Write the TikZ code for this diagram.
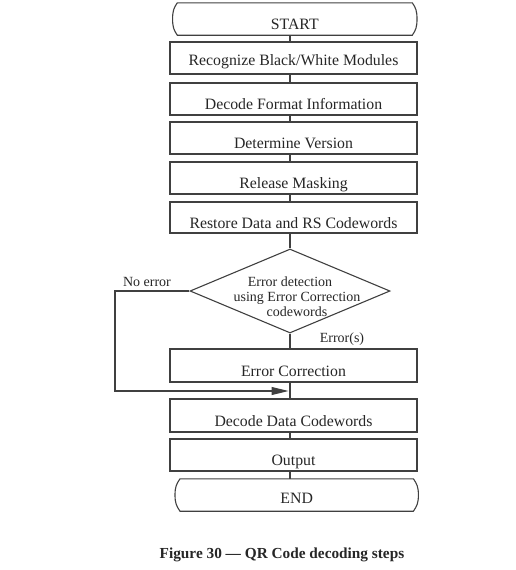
\documentclass[tikz,border=0pt]{standalone}
\usepackage{fontspec}
\setmainfont{Liberation Serif}
\usetikzlibrary{shapes.geometric,arrows.meta}
\definecolor{ln}{gray}{0.25}
\definecolor{tx}{gray}{0.15}
\tikzset{
  line/.style={draw=ln, line width=1.1pt},
  stepbox/.style={line, rectangle, minimum width=247pt, minimum height=32pt, inner sep=0pt,
    text height=21pt, text depth=0pt, text=tx, font=\fontsize{15.8}{18}\selectfont},
  termbox/.style={rectangle, minimum height=32pt, inner sep=0pt,
    text height=20.5pt, text depth=0pt, text=tx, font=\fontsize{15.8}{18}\selectfont},
  lbl/.style={text=tx, inner sep=0pt, font=\fontsize{14}{15}\selectfont},
}
\newcommand{\termoutline}[2]{%
  \draw[line] ([xshift=#2]#1.north west) -- ([xshift=-#2]#1.north east)
    .. controls +(3.5,5) and +(0,-8) .. (#1.east)
    .. controls +(0,8) and +(3.5,-5) .. ([xshift=-#2]#1.south east)
    -- ([xshift=#2]#1.south west)
    .. controls +(-3.5,-5) and +(0,8) .. (#1.west)
    .. controls +(0,-8) and +(-3.5,5) .. ([xshift=#2]#1.north west) -- cycle;}
\begin{document}
\begin{tikzpicture}[x=1pt,y=-1pt]
\useasboundingbox (0,0) rectangle (516,570);
\coordinate (col) at (290,0);
\coordinate (loop) at (115,391);

\node[termbox, minimum width=244pt] (start) at (294.8,19) {START};
\termoutline{start}{4.7pt}

\node[stepbox, text height=15.5pt] (b1) at (293.5,58) {Recognize Black/White Modules};
\node[stepbox] (b2) at (293.5,99) {Decode Format Information};
\node[stepbox] (b3) at (293.5,138) {Determine Version};
\node[stepbox] (b4) at (293.5,178) {Release Masking};
\node[stepbox, minimum height=31pt] (b5) at (293.5,217.5) {Restore Data and RS Codewords};

\node[line, diamond, aspect=2.381, minimum width=200pt, minimum height=84pt, inner sep=0pt] (d) at (290,291) {};
\node[lbl, align=center, anchor=base] (dtext) at (297,316)
  {Error detection\hspace*{14pt}\\using Error Correction\\codewords};

\node[stepbox, minimum height=33pt] (b6) at (293.5,365.5) {Error Correction};
\node[stepbox, minimum height=33pt] (b7) at (293.5,415.5) {Decode Data Codewords};
\node[stepbox] (b8) at (293.5,455) {Output};

\node[termbox, minimum width=243pt, text height=16.5pt] (end) at (296.7,495) {END};
\termoutline{end}{5pt}

\node[lbl, anchor=base] (noerr) at (147,286.5) {No error};
\node[lbl, anchor=base] (errs) at (342,342) {Error(s)};

\draw[line] (col |- start.south) -- (col |- b1.north);
\draw[line] (col |- b1.south) -- (col |- b2.north);
\draw[line] (col |- b2.south) -- (col |- b3.north);
\draw[line] (col |- b3.south) -- (col |- b4.north);
\draw[line] (col |- b4.south) -- (col |- b5.north);
\draw[line] (col |- b5.south) -- (d.north);
\draw[line] (d.south) -- (col |- b6.north);
\draw[line] (col |- b6.south) -- (col |- b7.north);
\draw[line] (col |- b7.south) -- (col |- b8.north);
\draw[line] (col |- b8.south) -- (col |- end.north);
\draw[line, -{Triangle[length=17pt,width=8pt]}] (d.west) -| (loop) -- ([xshift=-1.5pt]col |- loop);

\node[anchor=base, text=tx, inner sep=0pt, font=\bfseries\fontsize{15.3}{17}\selectfont] (cap) at (282,558)
  {Figure 30 — QR Code decoding steps};
\end{tikzpicture}
\end{document}
